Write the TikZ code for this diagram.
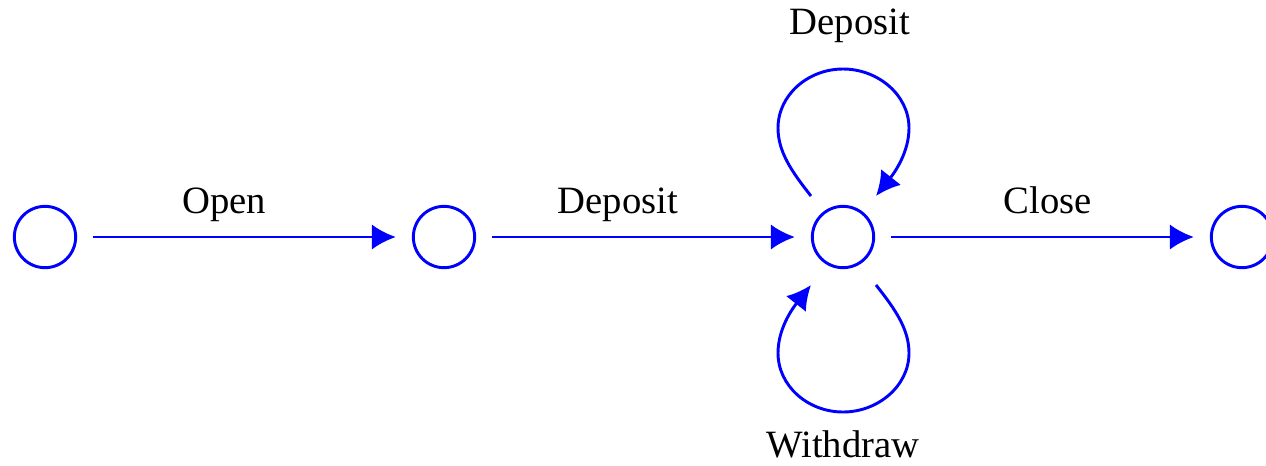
\documentclass[tikz,border=0pt]{standalone}
\usepackage{fontspec}
\setmainfont{Liberation Serif}
\usetikzlibrary{arrows.meta}
\begin{document}
\begin{tikzpicture}[x=0.75pt,y=-0.75pt,
  state/.style={circle,draw=blue,line width=2.2pt,minimum size=46pt,inner sep=0pt},
  trans/.style={draw=blue,line width=2.2pt,-{Latex[length=18pt,width=19pt]}},
  lbl/.style={font=\fontsize{29}{34}\selectfont,anchor=base,inner sep=0pt}]
\useasboundingbox (0,0) rectangle (1266,465);
\node[state] (s0) at (45,237) {};
\node[state] (s1) at (444,237) {};
\node[state] (s2) at (843,237) {};
\node[state] (s3) at (1242,237) {};
\path (s0.east) ++(16,0) coordinate (o0);
\path (s1.west) ++(-16,0) coordinate (o1);
\path (s1.east) ++(16,0) coordinate (d0);
\path (s2.west) ++(-16,0) coordinate (d1);
\path (s2.east) ++(16,0) coordinate (c0);
\path (s3.west) ++(-16,0) coordinate (c1);
\draw[trans] (o0) -- (o1);
\draw[trans] (d0) -- (d1);
\draw[trans] (c0) -- (c1);
\coordinate (t1) at (811,196);
\coordinate (t2) at (876,196);
\coordinate (b1) at (876,285);
\coordinate (b2) at (811,285);
\draw[trans] (t1) .. controls (792,172) and (778,152) .. (778,128)
  .. controls (778,95) and (808,69) .. (843,69)
  .. controls (878,69) and (909,95) .. (909,128)
  .. controls (909,152) and (895,172) .. (t2);
\draw[trans] (b1) .. controls (895,309) and (909,329) .. (909,353)
  .. controls (909,386) and (878,412) .. (843,412)
  .. controls (808,412) and (778,386) .. (778,353)
  .. controls (778,329) and (792,309) .. (b2);
\node[lbl] (lo) at (224,213) {Open};
\node[lbl] (ld) at (618,213) {Deposit};
\node[lbl] (lc) at (1048,213) {Close};
\node[lbl] (lt) at (850,34) {Deposit};
\node[lbl] (lw) at (843,457) {Withdraw};
\end{tikzpicture}
\end{document}
